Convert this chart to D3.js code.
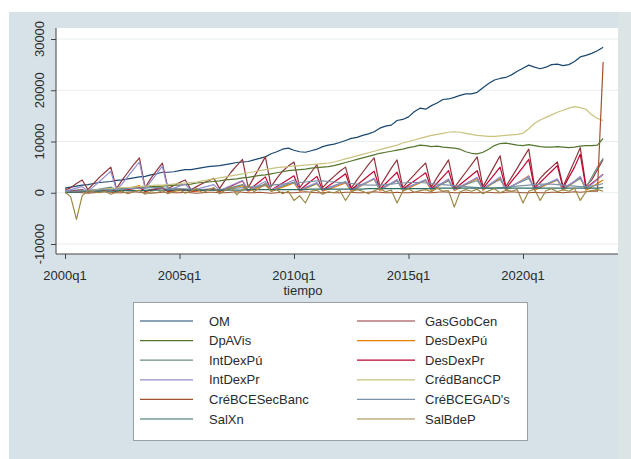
<!DOCTYPE html>
<html>
<head>
<meta charset="utf-8">
<script src="https://cdn.jsdelivr.net/npm/d3@7"></script>
<style>
html, body { margin: 0; padding: 0; background: #ffffff; }
svg { display: block; }
text { font-family: "Liberation Sans", Arial, Helvetica, sans-serif; fill: #2b2b2b; }
</style>
</head>
<body>
<svg id="chart" width="631" height="459"></svg>
<script>
// ---------- DATA ----------
const quarters = d3.range(160, 255); // Stata %tq: 160 = 2000q1 ... 254 = 2023q3
const xTickValues = [160, 180, 200, 220, 240];
const xTickLabels = ["2000q1", "2005q1", "2010q1", "2015q1", "2020q1"];
const yTickValues = [-10000, 0, 10000, 20000, 30000];
const yTickLabels = ["-10000", "0", "10000", "20000", "30000"];
const xTitle = "tiempo";

const seriesNames = ["OM", "GasGobCen", "DpAVis", "DesDexPú", "IntDexPú", "DesDexPr",
  "IntDexPr", "CrédBancCP", "CréBCESecBanc", "CréBCEGAD's", "SalXn", "SalBdeP"];
const seriesColors = ["#1a476f", "#90353b", "#55752f", "#e37e00", "#6e8e84", "#c10534",
  "#938dd2", "#cac27e", "#a0522d", "#7b92a8", "#2d6d66", "#9c8847"];

const OM = [900,1100,1300,1500,1600,1800,2000,2100,2200,2400,
  2500,2700,2900,3100,3200,3500,3700,4000,4000,4100,
  4300,4500,4500,4700,4900,5100,5200,5300,5500,5700,
  5900,6000,6100,6400,6700,7000,7600,8000,8500,8700,
  8300,8000,7900,8200,8500,9000,9300,9500,9800,10200,
  10600,10800,11200,11500,11900,12600,13000,13200,14100,14300,
  14800,15800,16500,16300,17000,17500,18200,18300,18600,19000,
  19300,19300,19600,20500,21300,22000,22300,22500,23000,23700,
  24300,24900,24500,24200,24500,25000,25100,24800,25000,25600,
  26500,26800,27200,27700,28400];
const GasGobCen = [500,1000,1800,2500,600,1800,3000,4000,5000,800,
  2500,4000,5500,6800,1000,2800,4300,5800,800,1400,
  2000,2500,600,1200,1800,2300,2800,800,2500,4000,
  5300,6500,1000,3000,5000,7000,1200,2800,4200,5200,
  6000,1000,2500,4000,5500,1000,2200,3200,4200,5000,
  900,2500,4000,5500,6800,1200,3000,4800,6400,1000,
  2300,3500,4700,5800,1100,3000,4700,6400,1000,2500,
  4000,5500,7000,1200,3200,5200,7200,1200,3000,4800,
  6700,8500,1300,2800,4000,5000,6000,1200,3700,6200,
  8800,1300,2500,4500,6500];
const DpAVis = [100,200,300,300,400,500,500,600,700,700,
  800,900,900,1000,1100,1200,1200,1300,1400,1500,
  1500,1600,1700,1900,2000,2100,2200,2300,2500,2600,
  2700,2900,3000,3200,3400,3500,3700,3900,4100,4300,
  4400,4500,4600,4800,4900,5000,5100,5300,5600,5900,
  6200,6500,6800,7100,7400,7700,7900,8100,8300,8500,
  8800,9000,9300,9200,9000,9100,8900,8800,8700,8500,
  8000,7700,7600,7900,8500,9200,9600,9700,9500,9300,
  9200,9400,9200,9000,8900,8900,9000,8900,8800,8900,
  9100,9200,9200,9300,10600];
const DesDexPu = [100,200,300,400,100,300,500,700,900,200,
  500,800,1100,1400,200,500,800,1100,200,300,
  400,500,200,300,400,500,600,200,500,800,
  1100,1400,300,700,1100,1500,300,700,1100,1500,
  1900,300,800,1300,1800,300,700,1100,1500,1900,
  300,900,1500,2100,2700,400,1100,1800,2500,400,
  900,1400,1900,2400,400,1100,1800,2500,400,1000,
  1600,2200,2800,500,1300,2100,2900,500,1200,1900,
  2600,3300,500,1000,1500,2000,2500,500,1300,2100,
  3000,500,1100,1800,2500];
const IntDexPu = [300,400,500,600,300,500,700,900,1100,400,
  600,800,1000,1200,400,600,800,1000,400,500,
  600,700,400,500,600,700,800,400,700,1000,
  1300,1600,500,900,1300,1700,500,900,1300,1700,
  2100,600,1000,1400,1800,600,1000,1400,1800,2200,
  700,1200,1700,2200,2700,800,1300,1800,2300,800,
  1200,1600,2000,2400,800,1300,1800,2300,800,1200,
  1600,2000,2400,800,1400,2000,2600,800,1300,1800,
  2300,2800,900,1300,1700,2100,2500,900,1500,2100,
  2800,1000,3000,5000,6700];
const DesDexPr = [200,300,400,500,200,300,400,500,600,200,
  400,600,800,1000,300,500,700,900,300,400,
  500,600,300,400,500,600,700,300,800,1300,
  1800,2300,400,1300,2200,3100,500,1200,1900,2600,
  3300,500,1400,2300,3200,500,1300,2100,2900,3700,
  600,1500,2400,3300,4200,700,1800,2900,4000,700,
  1500,2300,3100,3900,700,1900,3100,4300,700,1600,
  2500,3400,4300,800,2200,3600,5000,800,2200,3600,
  5000,6500,900,2000,3100,4200,5300,900,3000,5000,
  7500,900,1800,2700,3600];
const IntDexPr = [300,600,900,1200,300,1200,2200,3200,4200,500,
  1800,3200,4600,6000,700,2200,3700,5200,500,900,
  1300,1700,400,700,1000,1300,1600,400,900,1400,
  1900,2400,500,1000,1600,2200,500,1000,1500,2000,
  2500,500,1000,1500,2000,500,900,1300,1700,2100,
  500,1000,1600,2200,2800,600,1200,1900,2600,600,
  1100,1600,2100,2600,600,1300,2000,2700,600,1200,
  1800,2400,3000,700,1500,2300,3100,700,1300,1900,
  2500,3200,700,1200,1700,2200,2700,700,1500,2300,
  3200,800,1600,2600,3600];
const CredBancCP = [0,100,200,300,400,500,600,700,800,900,
  1000,1000,1100,1200,1300,1400,1500,1500,1600,1700,
  1800,1900,2000,2100,2300,2500,2700,2900,3100,3300,
  3500,3700,3900,4100,4300,4500,4700,4900,5000,5100,
  5200,5300,5400,5500,5600,5700,5800,6000,6300,6600,
  6900,7200,7500,7800,8100,8400,8700,9000,9300,9700,
  10000,10300,10600,10900,11200,11400,11600,11800,11900,11800,
  11600,11400,11200,11100,11000,11000,11100,11200,11300,11400,
  11600,12500,13500,14200,14700,15200,15700,16100,16500,16800,
  16600,16300,15200,14500,14100];
const CreBCESecBanc = [0,100,100,0,-100,0,100,200,100,0,
  0,100,200,100,0,-100,0,100,100,0,
  0,100,0,-100,0,100,100,0,0,100,
  200,100,0,0,100,0,-100,0,100,0,
  0,100,200,100,0,0,100,0,0,100,
  100,0,0,100,200,100,0,0,100,0,
  0,100,100,0,0,100,200,100,0,0,
  100,0,0,100,100,0,0,100,200,100,
  0,0,100,0,0,100,100,0,100,200,
  100,200,300,300,25500];
const CreBCEGADs = [200,300,300,400,400,500,500,600,600,700,
  700,800,800,900,900,1000,1000,900,900,800,
  800,700,700,600,600,500,500,600,700,800,
  900,1000,1100,1200,1300,1400,1500,1600,1700,1800,
  1900,2000,2100,2200,2300,2300,2200,2100,2000,1900,
  1800,1700,1600,1500,1500,1500,1600,1700,1800,1900,
  2000,2000,2000,1900,1800,1700,1600,1500,1400,1300,
  1200,1100,1000,900,900,900,1000,1100,1200,1300,
  1400,1500,1600,1700,1700,1700,1600,1500,1400,1300,
  1200,1200,1300,1500,1800];
const SalXn = [0,100,100,200,200,200,300,300,300,300,
  400,400,400,400,400,500,500,500,500,500,
  500,500,500,500,500,500,500,500,500,500,
  500,500,600,600,600,600,600,600,600,600,
  600,600,600,700,700,700,700,700,700,700,
  700,700,700,800,800,800,800,800,800,800,
  800,800,800,800,800,900,900,900,900,900,
  900,900,900,900,900,900,900,900,900,900,
  900,900,900,900,900,900,900,900,900,900,
  900,900,900,900,1000];
const SalBdeP = [200,-800,-5200,-600,400,200,0,300,-300,100,
  300,-200,200,500,-300,200,0,400,-200,300,
  600,-100,300,800,0,500,1000,-200,500,1200,
  -400,600,1500,200,900,1800,300,600,-200,300,
  -1500,-600,-2000,300,500,-300,200,0,500,-1500,
  200,600,300,-200,400,800,200,500,-2000,300,
  800,100,400,600,200,900,300,400,-2800,200,
  600,300,700,-200,400,800,0,500,300,600,
  -2000,300,700,-1500,400,800,200,600,300,900,
  -1500,200,400,600,300];

const seriesValues = [OM, GasGobCen, DpAVis, DesDexPu, IntDexPu, DesDexPr,
  IntDexPr, CredBancCP, CreBCESecBanc, CreBCEGADs, SalXn, SalBdeP];

// ---------- LAYOUT ----------
const svg = d3.select("#chart");
const W = 631, H = 459;
const plot = { left: 56, right: 618, top: 28, bottom: 254 };

// graph region background
svg.append("rect").attr("x", 9).attr("y", 12).attr("width", 609).attr("height", H - 12)
  .attr("fill", "#d6e2e8");
svg.append("rect").attr("x", 618).attr("y", 12).attr("width", 13).attr("height", H - 12)
  .attr("fill", "#dbe5e5");
// plot region
svg.append("rect").attr("x", plot.left).attr("y", plot.top)
  .attr("width", plot.right - plot.left).attr("height", plot.bottom - plot.top)
  .attr("fill", "#ffffff");

const x = d3.scaleLinear().domain([160, 240]).range([65, 523]);
const y = d3.scaleLinear().domain([-10000, 30000]).range([244, 39]);

// gridlines
svg.append("g").selectAll("line").data(yTickValues).join("line")
  .attr("x1", plot.left).attr("x2", plot.right)
  .attr("y1", d => y(d)).attr("y2", d => y(d))
  .attr("stroke", "#e6eef1").attr("stroke-width", 1);

// lines
const lineGen = d3.line().x((d, i) => x(quarters[i])).y(d => y(d));
const gLines = svg.append("g");
seriesValues.forEach((vals, k) => {
  gLines.append("path").datum(vals)
    .attr("d", lineGen)
    .attr("fill", "none")
    .attr("stroke", seriesColors[k])
    .attr("stroke-width", 1.2)
    .attr("stroke-linejoin", "round");
});

// y axis
const yAxis = svg.append("g").attr("transform", `translate(${plot.left},0)`)
  .call(d3.axisLeft(y).tickValues(yTickValues).tickSize(5).tickFormat(""));
yAxis.select(".domain").attr("d", `M0,${plot.top}V${plot.bottom}`).attr("stroke", "#444");
yAxis.selectAll(".tick line").attr("stroke", "#444");
svg.append("g").selectAll("text").data(yTickValues).join("text")
  .attr("transform", d => `translate(44,${y(d)}) rotate(-90)`)
  .attr("text-anchor", "middle")
  .style("font-size", "13px")
  .text((d, i) => yTickLabels[i]);

// x axis
const xAxis = svg.append("g").attr("transform", `translate(0,${plot.bottom})`)
  .call(d3.axisBottom(x).tickValues(xTickValues).tickSize(5).tickFormat(""));
xAxis.select(".domain").attr("d", `M${plot.left},0H${plot.right}`).attr("stroke", "#444");
xAxis.selectAll(".tick line").attr("stroke", "#444");
svg.append("g").selectAll("text").data(xTickValues).join("text")
  .attr("x", d => x(d)).attr("y", 280)
  .attr("text-anchor", "middle")
  .style("font-size", "13px")
  .text((d, i) => xTickLabels[i]);
svg.append("text").attr("x", 303).attr("y", 295).attr("text-anchor", "middle")
  .style("font-size", "13px").text(xTitle);

// legend
const leg = svg.append("g");
leg.append("rect").attr("x", 133.5).attr("y", 302.5).attr("width", 394).attr("height", 138)
  .attr("fill", "#ffffff").attr("stroke", "#9aa0a4").attr("stroke-width", 1);
const colLineX = [[140, 193], [357, 415]];
const colTextX = [209, 425];
const rowY0 = 321, rowDY = 19.6;
seriesNames.forEach((name, k) => {
  const col = k % 2, row = Math.floor(k / 2);
  const cy = rowY0 + row * rowDY;
  leg.append("line").attr("x1", colLineX[col][0]).attr("x2", colLineX[col][1])
    .attr("y1", cy).attr("y2", cy)
    .attr("stroke", seriesColors[k]).attr("stroke-width", 1.2);
  leg.append("text").attr("x", colTextX[col]).attr("y", cy + 4.6)
    .style("font-size", "13px").text(name);
});
</script>
</body>
</html>
